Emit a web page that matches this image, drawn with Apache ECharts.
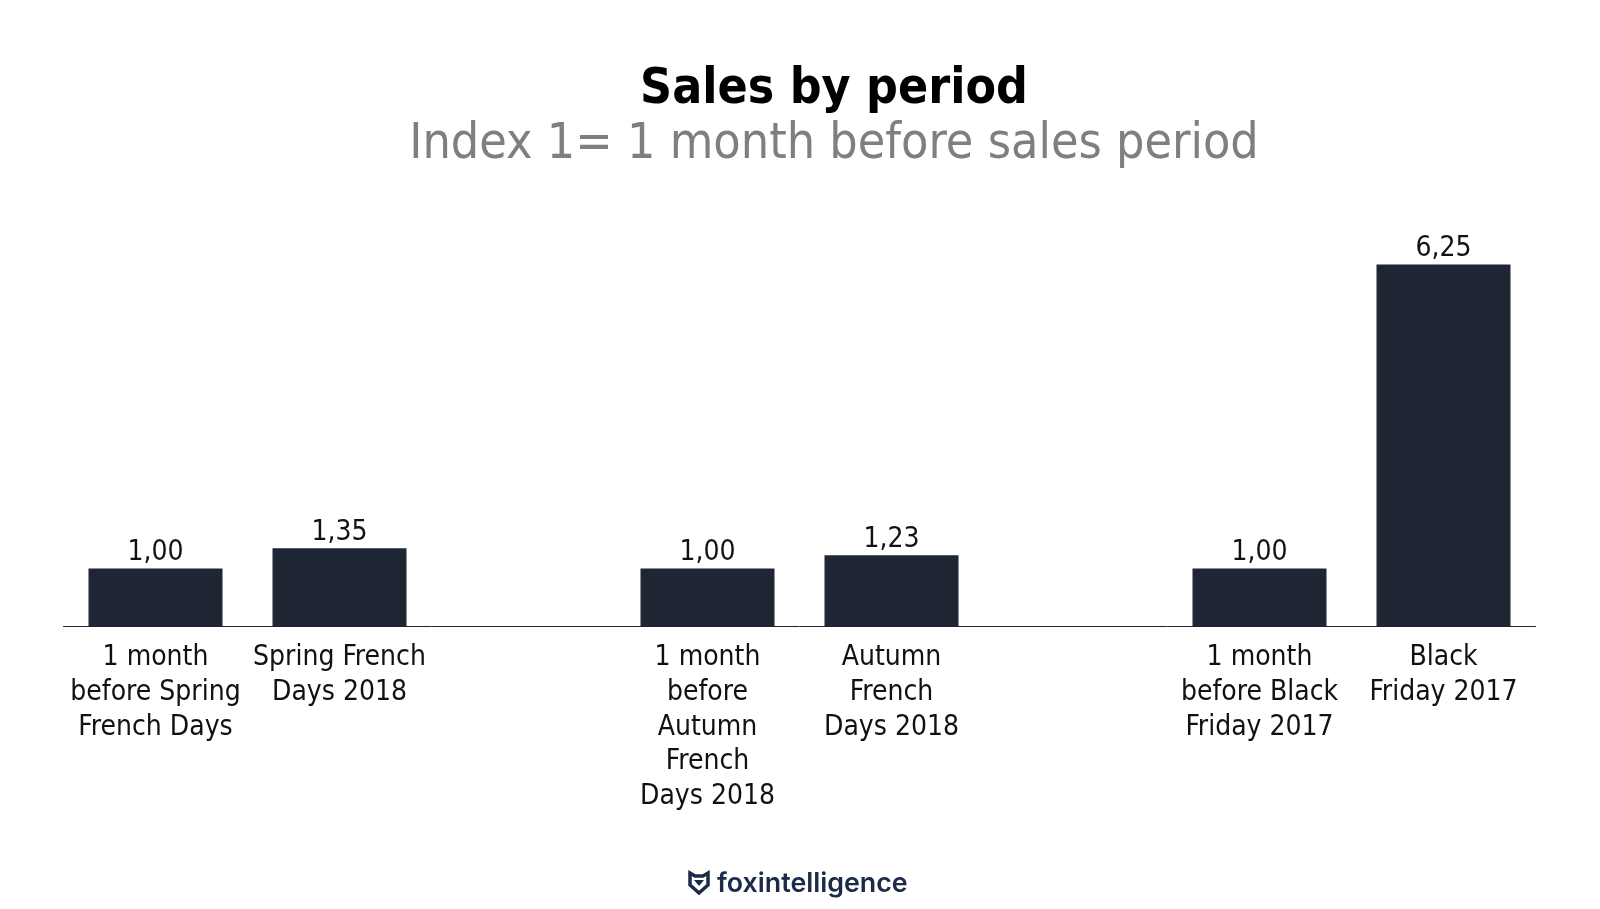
<!DOCTYPE html>
<html lang="en">
<head>
    <meta charset="utf-8">
    <title>Sales by period</title>
    <script src="https://cdn.jsdelivr.net/npm/echarts@6/dist/echarts.min.js"></script>
    <style>
        html, body { margin: 0; padding: 0; background: #fff; }
        #main { width: 1600px; height: 909px; }
    </style>
</head>
<body>
<div id="main"></div>
<script type="text/javascript">
    // empty strings are the spacer slots between the three pairs
    const categories = [
        '1 month\nbefore Spring\nFrench Days', 'Spring French\nDays 2018', '',
        '1 month\nbefore\nAutumn\nFrench\nDays 2018', 'Autumn\nFrench\nDays 2018', '',
        '1 month\nbefore Black\nFriday 2017', 'Black\nFriday 2017'
    ];
    const salesIndex = [1.00, 1.35, null, 1.00, 1.23, null, 1.00, 6.25];

    const labelFont = '"DejaVu Sans Condensed", "DejaVu Sans", sans-serif';

    let myChart = echarts.init(document.getElementById('main'));
    const option = {
        animation: false,
        backgroundColor: '#ffffff',
        title: {
            text: 'Sales by period',
            subtext: 'Index 1= 1 month before sales period',
            left: 829,
            top: 60,
            textAlign: 'center',
            itemGap: 5,
            textStyle: { fontFamily: labelFont, fontSize: 49.5, fontWeight: 'bold', color: '#000000' },
            subtextStyle: { fontFamily: labelFont, fontSize: 49.8, color: '#7f7f7f' }
        },
        grid: { left: 63.5, width: 1472, top: 264.5, bottom: 282.5 },
        xAxis: {
            type: 'category',
            data: categories,
            axisTick: { show: false },
            axisLine: { lineStyle: { color: '#1e2533', width: 1 } },
            axisLabel: {
                interval: 0,
                margin: 14,
                fontFamily: labelFont,
                fontSize: 28,
                lineHeight: 34.7,
                color: '#111111'
            }
        },
        yAxis: { type: 'value', min: 0, max: 6.25, show: false },
        series: [{
            type: 'bar',
            data: salesIndex,
            barWidth: 134,
            itemStyle: { color: '#1e2533' },
            label: {
                show: true,
                position: 'top',
                distance: 2,
                fontFamily: labelFont,
                fontSize: 28,
                color: '#111111',
                formatter: p => p.value.toFixed(2).replace('.', ',')
            }
        }],
        graphic: [
            {
                type: 'polygon',
                shape: { points: [[690, 873], [695, 876], [703, 876], [708, 873], [708, 885], [699, 893], [690, 885]] },
                style: { fill: 'none', stroke: '#1c2b4a', lineWidth: 3.5 }
            },
            {
                type: 'polygon',
                shape: { points: [[694, 880], [704, 880], [699, 886]] },
                style: { fill: '#1c2b4a' }
            },
            {
                type: 'text',
                left: 717,
                top: 870,
                style: { text: 'foxintelligence', fontFamily: 'Inter, Lato, sans-serif', fontSize: 26.8, fontWeight: 600, fill: '#1c2b4a' }
            }
        ]
    };
    myChart.setOption(option);
</script>
</body>
</html>
